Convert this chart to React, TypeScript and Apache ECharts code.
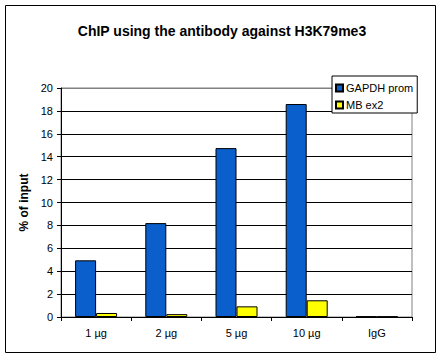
import React, { useEffect, useRef } from "react";
import * as echarts from "echarts";

const categories = ["1 µg", "2 µg", "5 µg", "10 µg", "IgG"];
const gapdhProm = [4.95, 8.2, 14.75, 18.6, 0.05];
const mbEx2 = [0.35, 0.25, 0.93, 1.46, 0.04];
const seriesNames = ["GAPDH prom", "MB ex2"];
const yTicks = { min: 0, max: 20, interval: 2 };

export default function App() {
  const ref = useRef<HTMLDivElement>(null);
  useEffect(() => {
    if (!ref.current) return;
    const chart = echarts.init(ref.current, null, { renderer: "svg" });
    const font = "Arial, 'Liberation Sans', sans-serif";
    const splitColors = Array.from({ length: 11 }, (_, i) => (i === 10 ? "#808080" : "#000000"));
    chart.setOption({
      animation: false,
      backgroundColor: "#ffffff",
      textStyle: { fontFamily: font },
      title: {
        text: "ChIP using the antibody against H3K79me3",
        left: 217,
        textAlign: "center",
        top: 19,
        textStyle: { fontFamily: font, fontSize: 14, fontWeight: "bold", color: "#000" },
      },
      legend: {
        data: seriesNames,
        orient: "vertical",
        left: 332,
        top: 76,
        backgroundColor: "#ffffff",
        borderColor: "#000000",
        borderWidth: 1,
        borderRadius: 0,
        padding: [6, 4, 2, 3],
        itemWidth: 7,
        itemHeight: 7,
        itemGap: 5,
        icon: "rect",
        textStyle: { fontFamily: font, fontSize: 11, color: "#000", lineHeight: 12, padding: [0, 0, 0, -2] },
      },
      graphic: [
        {
          type: "rect",
          shape: { x: 5.5, y: 5.5, width: 430, height: 347 },
          style: { fill: "none", stroke: "#000", lineWidth: 1 },
          z: 100,
        },
      ],
      grid: {
        left: 61,
        top: 88,
        right: 30,
        bottom: 43,
        show: true,
        borderColor: "#808080",
        borderWidth: 1,
        backgroundColor: "transparent",
      },
      xAxis: {
        type: "category",
        data: categories,
        axisLine: { lineStyle: { color: "#000", width: 1 } },
        axisTick: { show: true, length: 4, interval: 0, lineStyle: { color: "#000" } },
        axisLabel: { fontFamily: font, fontSize: 11, color: "#000", margin: 10, interval: 0 },
      },
      yAxis: {
        type: "value",
        min: yTicks.min,
        max: yTicks.max,
        interval: yTicks.interval,
        name: "% of input",
        nameLocation: "middle",
        nameGap: 31,
        nameTextStyle: { fontFamily: font, fontSize: 12, fontWeight: "bold", color: "#000" },
        axisLine: { show: true, lineStyle: { color: "#000", width: 1 } },
        axisTick: { show: true, length: 4, lineStyle: { color: "#000" } },
        axisLabel: { fontFamily: font, fontSize: 11, color: "#000", margin: 8 },
        splitLine: { show: true, lineStyle: { color: splitColors, width: 1 } },
      },
      series: [
        {
          name: seriesNames[0],
          type: "bar",
          data: gapdhProm,
          barWidth: 21,
          barGap: "0%",
          itemStyle: { color: "#0A5FCC", borderColor: "#000", borderWidth: 1 },
        },
        {
          name: seriesNames[1],
          type: "bar",
          data: mbEx2,
          barWidth: 21,
          barGap: "0%",
          itemStyle: { color: "#FFFF00", borderColor: "#000", borderWidth: 1 },
        },
      ],
    });
    return () => chart.dispose();
  }, []);
  return (
    <div
      ref={ref}
      style={{ position: "fixed", left: 0, top: 0, width: 442, height: 360 }}
    />
  );
}
